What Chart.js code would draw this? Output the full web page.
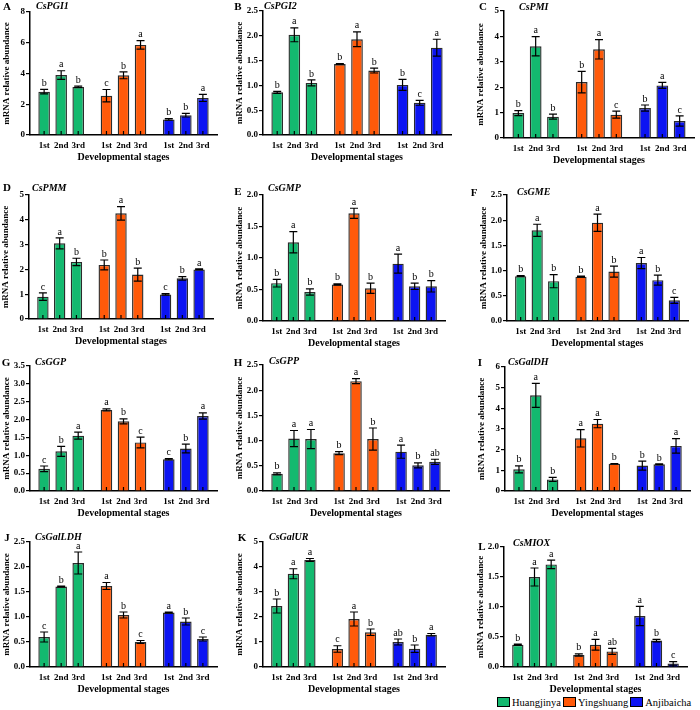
<!DOCTYPE html>
<html lang="en">
<head>
<meta charset="UTF-8">
<title>Gene expression across developmental stages</title>
<script src="https://cdn.jsdelivr.net/npm/chart.js"></script>
<style>
  body { margin: 0; background: #fff; }
  #wrap { position: relative; width: 700px; height: 710px; overflow: hidden; }
  #wrap canvas { position: absolute; }
  .legend { position: absolute; top: 695px; left: 497px; font: 10.5px "Liberation Serif", serif; color: #000; white-space: nowrap; }
  .legend span { display: inline-block; vertical-align: middle; }
  .legend .box { width: 11px; height: 8px; border: 1px solid #000; margin-right: 2px; }
  .legend .item { margin-right: 2px; }
</style>
</head>
<body>
<div id="wrap"></div>

<script>
// ---- data ----
const cultivars = ['Huangjinya', 'Yingshuang', 'Anjibaicha'];
const stages = ['1st', '2nd', '3rd'];
const colors = ['#13b96f', '#ff5a0a', '#0c14f2'];

const geneNames = ['CsPGI1', 'CsPGI2', 'CsPMI', 'CsPMM', 'CsGMP', 'CsGME',
                   'CsGGP', 'CsGPP', 'CsGalDH', 'CsGalLDH', 'CsGalUR', 'CsMIOX'];
const panelTags = ['A', 'B', 'C', 'D', 'E', 'F', 'G', 'H', 'I', 'J', 'K', 'L'];
const yMaxes = [8, 2.5, 5, 5, 2, 2.5, 3.5, 2.5, 6, 2.5, 5, 2];
const ySteps = [2, 0.5, 1, 1, 0.5, 0.5, 0.5, 0.5, 1, 0.5, 1, 0.5];

// order: Huangjinya 1st-3rd, Yingshuang 1st-3rd, Anjibaicha 1st-3rd
const meanPGI1 = [2.82, 3.90, 3.13, 2.56, 3.88, 5.86, 1.01, 1.29, 2.41];
const sdPGI1   = [0.15, 0.28, 0.05, 0.40, 0.22, 0.28, 0.05, 0.12, 0.23];
const sigPGI1  = ['b', 'a', 'b', 'c', 'b', 'a', 'b', 'b', 'a'];

const meanPGI2 = [0.86, 2.02, 1.05, 1.43, 1.93, 1.30, 1.01, 0.65, 1.76];
const sdPGI2   = [0.02, 0.14, 0.06, 0.01, 0.15, 0.05, 0.11, 0.05, 0.17];
const sigPGI2  = ['b', 'a', 'b', 'b', 'a', 'b', 'b', 'c', 'a'];

const meanPMI = [0.98, 3.61, 0.84, 2.20, 3.49, 0.92, 1.18, 2.07, 0.67];
const sdPMI   = [0.10, 0.38, 0.10, 0.42, 0.38, 0.14, 0.12, 0.12, 0.20];
const sigPMI  = ['b', 'a', 'b', 'b', 'a', 'c', 'b', 'a', 'c'];

const meanPMM = [0.90, 3.05, 2.30, 2.18, 4.26, 1.79, 0.99, 1.64, 2.00];
const sdPMM   = [0.15, 0.22, 0.15, 0.20, 0.27, 0.26, 0.03, 0.07, 0.02];
const sigPMM  = ['c', 'a', 'b', 'b', 'a', 'b', 'c', 'b', 'a'];

const meanGMP = [0.60, 1.25, 0.46, 0.58, 1.71, 0.52, 0.91, 0.55, 0.55];
const sdGMP   = [0.06, 0.17, 0.05, 0.01, 0.08, 0.08, 0.15, 0.05, 0.09];
const sigGMP  = ['b', 'a', 'b', 'b', 'a', 'b', 'a', 'b', 'b'];

const meanGME = [0.89, 1.80, 0.79, 0.88, 1.95, 0.98, 1.15, 0.81, 0.41];
const sdGME   = [0.01, 0.12, 0.13, 0.01, 0.17, 0.11, 0.11, 0.10, 0.06];
const sigGME  = ['b', 'a', 'b', 'b', 'a', 'b', 'a', 'b', 'c'];

const meanGGP = [0.62, 1.11, 1.55, 2.27, 1.95, 1.36, 0.89, 1.19, 2.10];
const sdGGP   = [0.08, 0.14, 0.10, 0.03, 0.07, 0.15, 0.02, 0.12, 0.09];
const sigGGP  = ['c', 'b', 'a', 'a', 'b', 'c', 'c', 'b', 'a'];

const meanGPP = [0.34, 1.04, 1.03, 0.75, 2.18, 1.03, 0.78, 0.51, 0.58];
const sdGPP   = [0.02, 0.16, 0.19, 0.03, 0.05, 0.22, 0.13, 0.05, 0.05];
const sigGPP  = ['b', 'a', 'a', 'b', 'a', 'b', 'a', 'b', 'ab'];

const meanGalDH = [1.05, 4.63, 0.56, 2.55, 3.26, 1.32, 1.23, 1.29, 2.18];
const sdGalDH   = [0.17, 0.58, 0.10, 0.42, 0.20, 0.01, 0.22, 0.02, 0.35];
const sigGalDH  = ['b', 'a', 'b', 'a', 'a', 'b', 'b', 'b', 'a'];

const meanGalLDH = [0.60, 1.61, 2.08, 1.62, 1.04, 0.50, 1.09, 0.91, 0.56];
const sdGalLDH   = [0.10, 0.01, 0.22, 0.07, 0.06, 0.03, 0.01, 0.07, 0.04];
const sigGalLDH  = ['c', 'b', 'a', 'a', 'b', 'c', 'a', 'b', 'c'];

const meanGalUR = [2.44, 3.73, 4.28, 0.72, 1.92, 1.39, 1.00, 0.73, 1.29];
const sdGalUR   = [0.28, 0.20, 0.06, 0.13, 0.28, 0.13, 0.12, 0.15, 0.05];
const sigGalUR  = ['b', 'a', 'a', 'c', 'a', 'b', 'ab', 'b', 'a'];

const meanMIOX = [0.37, 1.50, 1.71, 0.20, 0.37, 0.26, 0.85, 0.44, 0.06];
const sdMIOX   = [0.01, 0.15, 0.07, 0.02, 0.09, 0.05, 0.16, 0.02, 0.03];
const sigMIOX  = ['b', 'a', 'a', 'b', 'a', 'ab', 'a', 'b', 'c'];

const allMeans = [meanPGI1, meanPGI2, meanPMI, meanPMM, meanGMP, meanGME,
                  meanGGP, meanGPP, meanGalDH, meanGalLDH, meanGalUR, meanMIOX];
const allSds = [sdPGI1, sdPGI2, sdPMI, sdPMM, sdGMP, sdGME,
                sdGGP, sdGPP, sdGalDH, sdGalLDH, sdGalUR, sdMIOX];
const allSigs = [sigPGI1, sigPGI2, sigPMI, sigPMM, sigGMP, sigGME,
                 sigGGP, sigGPP, sigGalDH, sigGalLDH, sigGalUR, sigMIOX];

// ---- layout: plot area (axis x, right, top, bottom) and label offsets ----
const panelBoxes = [
  [30, 217, 12, 135], [263, 451, 11, 135], [504, 694, 11, 138],
  [29, 213, 195, 319], [263, 445, 195, 321], [507, 688, 195, 321],
  [30, 217, 366, 491], [263, 449, 365, 491], [505, 690, 367, 491],
  [30, 217, 542, 667], [263, 445, 542, 667], [504, 687, 547, 667]
];
const tagOffsets = [[-23, -5], [-25, -4], [-21, -4], [-22, -7], [-25, -3], [-33, -2],
                    [-24, -3], [-25, -2], [-25, -4], [-23, -4], [-21, -4], [-22, 0]];
const geneOffsets = [[6, -6], [1, -5], [15, -4], [3, -7], [5, -7], [10, -3],
                     [5, -4], [6, -4], [3, -5], [5, -5], [6, -5], [9, -4]];

const SERIF = '"Liberation Serif", "Times New Roman", serif';
const LEFT_W = 40, TOP_PAD = 16, RIGHT_PAD = 4, BOTTOM_H = 28;

// error bars, letters, stage labels, inner ticks, panel tag and gene name
const decoPlugin = {
  id: 'deco',
  afterDatasetsDraw(chart, args, o) {
    const ctx = chart.ctx, ys = chart.scales.y, area = chart.chartArea;
    ctx.save();
    ctx.strokeStyle = '#000';
    ctx.fillStyle = '#000';
    ctx.lineWidth = 1.2;
    ctx.textAlign = 'center';
    for (let s = 0; s < stages.length; s++) {
      const meta = chart.getDatasetMeta(s);
      meta.data.forEach((bar, c) => {
        const k = c * 3 + s;
        const x = bar.x;
        const hi = ys.getPixelForValue(o.mean[k] + o.sd[k]);
        const lo = ys.getPixelForValue(Math.max(0, o.mean[k] - o.sd[k]));
        ctx.beginPath();
        ctx.moveTo(x, lo); ctx.lineTo(x, hi);
        ctx.moveTo(x - 4, hi); ctx.lineTo(x + 4, hi);
        ctx.moveTo(x - 4, lo); ctx.lineTo(x + 4, lo);
        ctx.moveTo(x, area.bottom); ctx.lineTo(x, area.bottom - 4);
        ctx.stroke();

        ctx.font = '10px ' + SERIF;
        ctx.textBaseline = 'bottom';
        ctx.fillText(o.sig[k], x, hi - 1);

        ctx.font = 'bold 9px ' + SERIF;
        ctx.textBaseline = 'middle';
        ctx.fillText(stages[s], x, area.bottom + 11);
      });
    }
    ctx.textBaseline = 'middle';
    ctx.font = 'bold 11px ' + SERIF;
    ctx.fillText(o.tag, area.left + o.tagOff[0], area.top + o.tagOff[1]);
    ctx.textAlign = 'left';
    ctx.font = 'italic bold 10px ' + SERIF;
    ctx.fillText(o.gene, area.left + o.geneOff[0], area.top + o.geneOff[1]);
    ctx.restore();
  }
};

const wrap = document.getElementById('wrap');

geneNames.forEach((gene, i) => {
  const [ax, right, top, bottom] = panelBoxes[i];
  const left = ax - LEFT_W;
  const cTop = top - TOP_PAD;
  const canvas = document.createElement('canvas');
  canvas.width = right + RIGHT_PAD - left;
  canvas.height = bottom + BOTTOM_H - cTop;
  canvas.style.left = left + 'px';
  canvas.style.top = cTop + 'px';
  wrap.appendChild(canvas);

  const mean = allMeans[i];
  const step = ySteps[i];
  const datasets = stages.map((st, s) => ({
    label: st,
    data: cultivars.map((cv, c) => mean[c * 3 + s]),
    backgroundColor: colors,
    borderColor: '#2b2b2b',
    borderWidth: 1.4,
    categoryPercentage: 0.82,
    barPercentage: 0.68
  }));

  new Chart(canvas, {
    type: 'bar',
    data: { labels: cultivars, datasets: datasets },
    plugins: [decoPlugin],
    options: {
      responsive: false,
      animation: false,
      devicePixelRatio: 1,
      layout: { padding: { top: TOP_PAD, right: RIGHT_PAD, left: 0, bottom: 0 } },
      plugins: {
        legend: { display: false },
        tooltip: { enabled: false },
        deco: {
          mean: mean, sd: allSds[i], sig: allSigs[i],
          tag: panelTags[i], gene: gene,
          tagOff: tagOffsets[i], geneOff: geneOffsets[i]
        }
      },
      scales: {
        x: {
          offset: true,
          grid: { display: false },
          border: { display: true, color: '#000', width: 1.5 },
          ticks: { display: false },
          title: {
            display: true, text: 'Developmental stages', color: '#000',
            font: { family: SERIF, size: 10, weight: 'bold' },
            padding: { top: 0, bottom: 0 }
          },
          afterFit(scale) { scale.height = BOTTOM_H; }
        },
        y: {
          min: 0,
          max: yMaxes[i],
          grid: { display: true, drawOnChartArea: false, drawTicks: true, tickLength: 4, color: '#000', lineWidth: 1.2 },
          border: { display: true, color: '#000', width: 1.5 },
          ticks: {
            stepSize: step,
            color: '#000',
            padding: 1,
            font: { family: SERIF, size: 9, weight: 'bold' },
            callback: (v) => step < 1 ? Number(v).toFixed(1) : String(v)
          },
          title: {
            display: true, text: 'mRNA relative abundance', color: '#000',
            font: { family: SERIF, size: 9, weight: 'bold' },
            padding: { top: 11, bottom: 0 }
          },
          afterFit(scale) { scale.width = LEFT_W; }
        }
      }
    }
  });
});

// legend (bottom right)
const legend = document.createElement('div');
legend.className = 'legend';
cultivars.forEach((cv, c) => {
  const item = document.createElement('span');
  item.className = 'item';
  const box = document.createElement('span');
  box.className = 'box';
  box.style.background = colors[c];
  const txt = document.createElement('span');
  txt.textContent = cv;
  item.appendChild(box);
  item.appendChild(txt);
  legend.appendChild(item);
});
wrap.appendChild(legend);
</script>
</body>
</html>
